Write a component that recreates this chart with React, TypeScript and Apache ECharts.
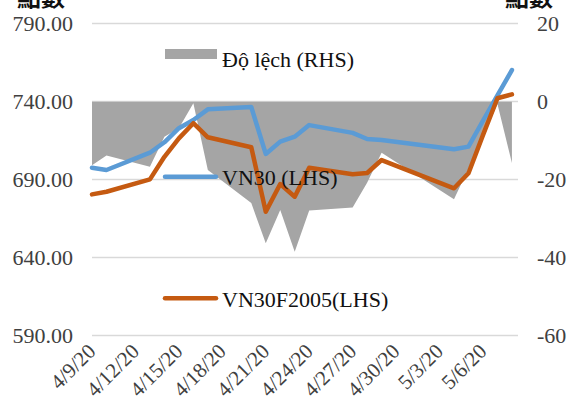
import React, { useEffect, useRef } from "react";
import * as echarts from "echarts";

// Trading days shown in the chart
const tradingDates = [
  "4/9/20", "4/10/20", "4/13/20", "4/14/20", "4/15/20", "4/16/20", "4/17/20",
  "4/20/20", "4/21/20", "4/22/20", "4/23/20", "4/24/20", "4/27/20", "4/28/20",
  "4/29/20", "5/4/20", "5/5/20", "5/6/20", "5/7/20", "5/8/20",
];
// VN30 index (LHS)
const vn30 = [
  697.7, 696.2, 707.3, 714.0, 723.0, 728.3, 735.1, 736.6, 706.5, 714.4,
  717.6, 725.0, 720.0, 716.1, 715.5, 709.5, 711.2, 727.8, 744.0, 760.3,
];
// VN30F2005 futures (LHS)
const vn30f = [
  680.6, 682.3, 690.2, 704.7, 716.5, 726.2, 717.2, 710.8, 669.5, 687.2,
  679.1, 697.6, 693.5, 694.3, 702.6, 684.5, 694.1, 718.6, 742.2, 744.7,
];
// Basis / "Độ lệch" (RHS)
const basis = [
  -16.3, -13.8, -16.7, -9.0, -6.8, -0.4, -17.5, -26.0, -36.3, -27.8,
  -38.5, -27.9, -27.1, -20.8, -13.1, -25.0, -17.1, -9.2, -0.6, -15.7,
];
const leftAxis = { min: 590, max: 790, step: 50 };
const rightAxis = { min: -60, max: 20, step: 20 };
const labelEveryDays = 3;
const axisTitle = "點數";
const names = { basis: "Độ lệch (RHS)", vn30: "VN30 (LHS)", vn30f: "VN30F2005(LHS)" };

const BASE = Date.UTC(2020, 3, 9);
const DAY = 86400000;
function dayIndex(s: string): number {
  const [m, d, y] = s.split("/").map(Number);
  return Math.round((Date.UTC(2000 + y, m - 1, d) - BASE) / DAY);
}
function dateLabel(i: number): string {
  const dt = new Date(BASE + i * DAY);
  return `${dt.getUTCMonth() + 1}/${dt.getUTCDate()}/${String(dt.getUTCFullYear()).slice(2)}`;
}

const SERIF = "'Liberation Serif', 'Times New Roman', serif";

export default function App() {
  const ref = useRef<HTMLDivElement>(null);
  useEffect(() => {
    if (!ref.current) return;
    const chart = echarts.init(ref.current, undefined, { renderer: "svg" });
    const xs = tradingDates.map(dayIndex);
    const pair = (arr: number[]) => arr.map((v, i) => [xs[i], v]);
    const lastDay = xs[xs.length - 1];

    chart.setOption({
      animation: false,
      backgroundColor: "#ffffff",
      grid: { left: 92, right: 60, top: 23.7, bottom: 75.3, containLabel: false },
      xAxis: {
        type: "value",
        min: 0,
        max: lastDay + 0.42,
        interval: labelEveryDays,
        axisLine: { show: false },
        axisTick: { show: false },
        splitLine: { show: false },
        axisLabel: {
          rotate: 45,
          margin: 12,
          showMaxLabel: false,
          fontFamily: SERIF,
          fontSize: 21,
          color: "#404040",
          formatter: (v: number) =>
            Math.abs(v % labelEveryDays) < 1e-6 && v <= lastDay ? dateLabel(v) : "",
        },
      },
      yAxis: [
        {
          type: "value",
          position: "left",
          min: leftAxis.min,
          max: leftAxis.max,
          interval: leftAxis.step,
          axisLine: { show: false },
          axisTick: { show: false },
          splitLine: { show: true, lineStyle: { color: "#D9D9D9", width: 1.3 } },
          axisLabel: {
            margin: 19,
            fontFamily: SERIF,
            fontSize: 22,
            color: "#404040",
            formatter: (v: number) => v.toFixed(2),
          },
        },
        {
          type: "value",
          position: "right",
          min: rightAxis.min,
          max: rightAxis.max,
          interval: rightAxis.step,
          axisLine: { show: false },
          axisTick: { show: false },
          splitLine: { show: false },
          axisLabel: {
            margin: 19,
            fontFamily: SERIF,
            fontSize: 22,
            color: "#404040",
          },
        },
      ],
      series: [
        {
          name: names.basis,
          type: "line",
          yAxisIndex: 1,
          data: pair(basis),
          symbol: "none",
          lineStyle: { width: 0 },
          itemStyle: { color: "#A5A5A5" },
          areaStyle: { color: "#A5A5A5", opacity: 1, origin: "auto" },
          z: 1,
        },
        {
          name: names.vn30,
          type: "line",
          yAxisIndex: 0,
          data: pair(vn30),
          symbol: "none",
          lineStyle: { width: 4.5, color: "#5B9BD5", cap: "round", join: "round" },
          itemStyle: { color: "#5B9BD5" },
          z: 2,
        },
        {
          name: names.vn30f,
          type: "line",
          yAxisIndex: 0,
          data: pair(vn30f),
          symbol: "none",
          lineStyle: { width: 4.5, color: "#C55A11", cap: "round", join: "round" },
          itemStyle: { color: "#C55A11" },
          z: 3,
        },
      ],
      graphic: [
        {
          type: "text",
          left: 17,
          top: -17,
          z: 10,
          style: { text: axisTitle, font: "bold 24px 'Noto Sans CJK TC'", fill: "#111" },
        },
        {
          type: "text",
          left: 505,
          top: -17,
          z: 10,
          style: { text: axisTitle, font: "bold 24px 'Noto Sans CJK TC'", fill: "#111" },
        },
        { type: "rect", z: 10, shape: { x: 165, y: 49, width: 52, height: 10 }, style: { fill: "#A5A5A5" } },
        {
          type: "text",
          z: 10,
          x: 222,
          y: 59,
          style: { text: names.basis, font: `22px ${SERIF}`, fill: "#111", textVerticalAlign: "middle" },
        },
        { type: "line", z: 10, shape: { x1: 165, y1: 176.7, x2: 216, y2: 176.7 }, style: { stroke: "#5B9BD5", lineWidth: 4.5, lineCap: "round" } },
        {
          type: "text",
          z: 10,
          x: 222,
          y: 177,
          style: { text: names.vn30, font: `22px ${SERIF}`, fill: "#111", textVerticalAlign: "middle" },
        },
        { type: "line", z: 10, shape: { x1: 165, y1: 298.3, x2: 216, y2: 298.3 }, style: { stroke: "#C55A11", lineWidth: 4.5, lineCap: "round" } },
        {
          type: "text",
          z: 10,
          x: 222,
          y: 299,
          style: { text: names.vn30f, font: `22px ${SERIF}`, fill: "#111", textVerticalAlign: "middle" },
        },
      ],
    });
    return () => chart.dispose();
  }, []);

  return (
    <div
      ref={ref}
      style={{ position: "fixed", left: 0, top: 0, width: 578, height: 411, background: "#fff" }}
    />
  );
}
